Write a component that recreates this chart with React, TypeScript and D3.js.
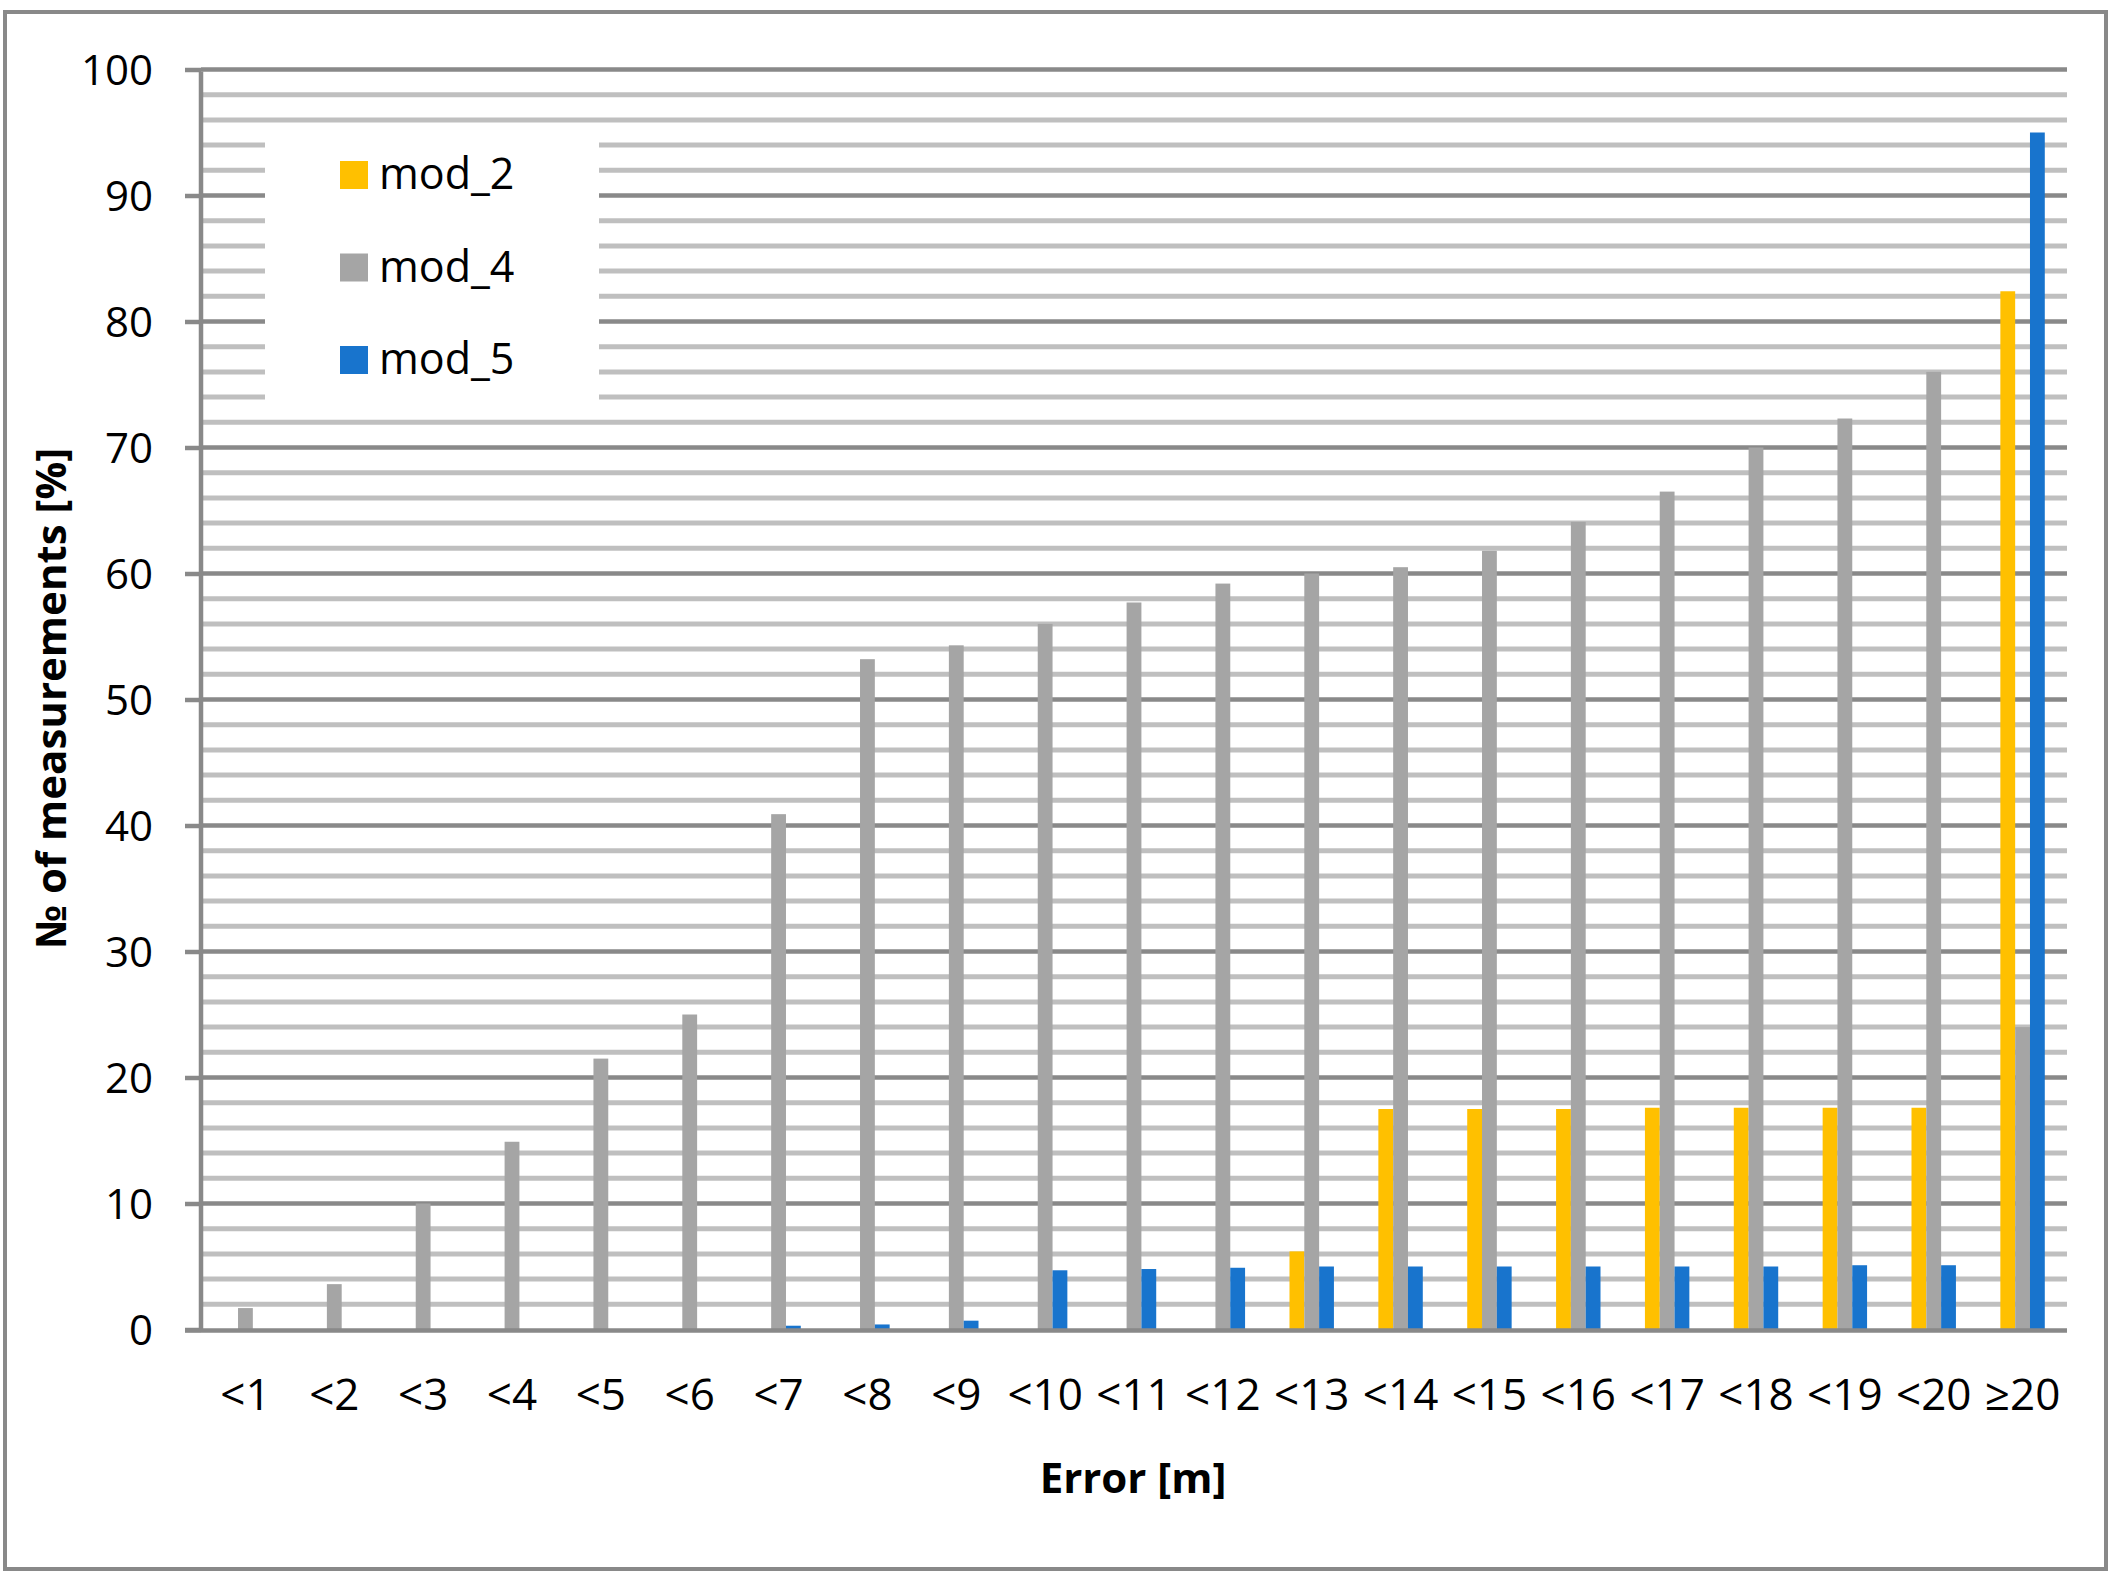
import React, { useEffect, useRef } from "react";
import * as d3 from "d3";

// error bins (x axis)
const categories = ["<1", "<2", "<3", "<4", "<5", "<6", "<7", "<8", "<9", "<10", "<11", "<12", "<13", "<14", "<15", "<16", "<17", "<18", "<19", "<20", "≥20"];

// % of measurements per model
const mod2 = [0, 0, 0, 0, 0, 0, 0, 0, 0, 0, 0, 0, 6.2, 17.5, 17.5, 17.5, 17.6, 17.6, 17.6, 17.6, 82.4];
const mod4 = [1.7, 3.6, 10.0, 14.9, 21.5, 25.0, 40.9, 53.2, 54.3, 56.0, 57.7, 59.2, 60.0, 60.5, 61.8, 64.1, 66.5, 70.0, 72.3, 76.0, 24.0];
const mod5 = [0, 0, 0, 0, 0, 0, 0.3, 0.4, 0.7, 4.7, 4.8, 4.9, 5.0, 5.0, 5.0, 5.0, 5.0, 5.0, 5.1, 5.1, 95.0];

const seriesNames = ["mod_2", "mod_4", "mod_5"];
const seriesColors = ["#FFC000", "#A5A5A5", "#1874CD"];

const majorTicks = [0, 10, 20, 30, 40, 50, 60, 70, 80, 90, 100];
const minorTicks = d3.range(2, 100, 2).filter((v) => v % 10 !== 0);

const W = 2117;
const H = 1577;
const FONT = "'Open Sans', 'Noto Sans', sans-serif";

export default function App() {
  const svgRef = useRef<SVGSVGElement>(null);

  useEffect(() => {
    const svg = d3.select(svgRef.current);
    svg.selectAll("*").remove();

    const left = 201;
    const right = 2067;
    const top = 69.5;
    const bottom = 1329.5;
    const gridColor = "#898989";
    const minorColor = "#BFBFBF";

    // background + outer frame
    svg.append("rect").attr("width", W).attr("height", H).attr("fill", "#fff");
    svg
      .append("rect")
      .attr("x", 5)
      .attr("y", 12)
      .attr("width", 2101)
      .attr("height", 1557)
      .attr("fill", "none")
      .attr("stroke", gridColor)
      .attr("stroke-width", 4);

    const x = d3.scaleBand().domain(categories).range([left, right]).paddingInner(0.5).paddingOuter(0.25);
    const xs = d3.scaleBand().domain(seriesNames).range([0, x.bandwidth()]);
    const y = d3.scaleLinear().domain([0, 100]).range([bottom, top]);

    // minor gridlines
    svg
      .append("g")
      .selectAll("line")
      .data(minorTicks)
      .enter()
      .append("line")
      .attr("x1", left)
      .attr("x2", right)
      .attr("y1", (d) => y(d))
      .attr("y2", (d) => y(d))
      .attr("stroke", minorColor)
      .attr("stroke-width", 5);

    // major gridlines
    svg
      .append("g")
      .selectAll("line")
      .data(majorTicks.filter((d) => d > 0))
      .enter()
      .append("line")
      .attr("x1", left)
      .attr("x2", right)
      .attr("y1", (d) => y(d))
      .attr("y2", (d) => y(d))
      .attr("stroke", gridColor)
      .attr("stroke-width", 4.5);

    // legend box (white, sits over the gridlines)
    const legend = svg.append("g");
    legend.append("rect").attr("x", 265).attr("y", 125).attr("width", 334).attr("height", 285).attr("fill", "#fff");
    seriesNames.forEach((name, i) => {
      const cy = 175 + i * 92.5;
      legend.append("rect").attr("x", 340).attr("y", cy - 14).attr("width", 28).attr("height", 28).attr("fill", seriesColors[i]);
      legend
        .append("text")
        .attr("x", 379)
        .attr("y", cy + 14)
        .attr("font-family", FONT)
        .attr("font-size", 43)
        .attr("fill", "#000")
        .text(name);
    });

    // bars
    const rows = categories.map((c, i) => ({ c, vals: [mod2[i], mod4[i], mod5[i]] }));
    const groups = svg
      .append("g")
      .selectAll("g")
      .data(rows)
      .enter()
      .append("g")
      .attr("transform", (d) => `translate(${x(d.c)},0)`);
    groups
      .selectAll("rect")
      .data((d) => d.vals.map((v, k) => ({ v, k })))
      .enter()
      .append("rect")
      .attr("x", (d) => xs(seriesNames[d.k]) as number)
      .attr("width", xs.bandwidth())
      .attr("y", (d) => y(d.v))
      .attr("height", (d) => bottom - y(d.v))
      .attr("fill", (d) => seriesColors[d.k]);

    // y axis (ticks + labels)
    const yAxis = svg
      .append("g")
      .attr("transform", `translate(${left},0)`)
      .call(d3.axisLeft(y).tickValues(majorTicks).tickSize(16).tickPadding(32).tickFormat(d3.format("d")));
    yAxis.select(".domain").remove();
    yAxis.selectAll(".tick line").attr("stroke", gridColor).attr("stroke-width", 4.5);
    yAxis
      .selectAll(".tick text")
      .attr("font-family", FONT)
      .attr("font-size", 42)
      .attr("fill", "#000")
      .attr("dy", "0.36em");

    // vertical axis line
    svg
      .append("line")
      .attr("x1", left)
      .attr("x2", left)
      .attr("y1", top + 2)
      .attr("y2", bottom)
      .attr("stroke", gridColor)
      .attr("stroke-width", 4.5);

    // x axis (baseline + labels)
    const xAxis = svg
      .append("g")
      .attr("transform", `translate(0,${bottom})`)
      .call(d3.axisBottom(x).tickSize(0));
    xAxis.select(".domain").remove();
    xAxis
      .selectAll(".tick text")
      .attr("font-family", FONT)
      .attr("font-size", 44)
      .attr("fill", "#000")
      .attr("y", 80)
      .attr("dy", 0);
    svg
      .append("line")
      .attr("x1", 185)
      .attr("x2", right)
      .attr("y1", bottom + 1)
      .attr("y2", bottom + 1)
      .attr("stroke", gridColor)
      .attr("stroke-width", 4.5);

    // axis titles
    svg
      .append("text")
      .attr("x", 1133)
      .attr("y", 1493)
      .attr("text-anchor", "middle")
      .attr("font-family", FONT)
      .attr("font-weight", "bold")
      .attr("font-size", 42)
      .text("Error [m]");
    svg
      .append("text")
      .attr("transform", "translate(66,698) rotate(-90)")
      .attr("text-anchor", "middle")
      .attr("font-family", FONT)
      .attr("font-weight", "bold")
      .attr("font-size", 42)
      .text("№ of measurements [%]");
  }, []);

  return (
    <svg
      ref={svgRef}
      width={W}
      height={H}
      style={{ position: "absolute", left: 0, top: 0, display: "block" }}
    />
  );
}
